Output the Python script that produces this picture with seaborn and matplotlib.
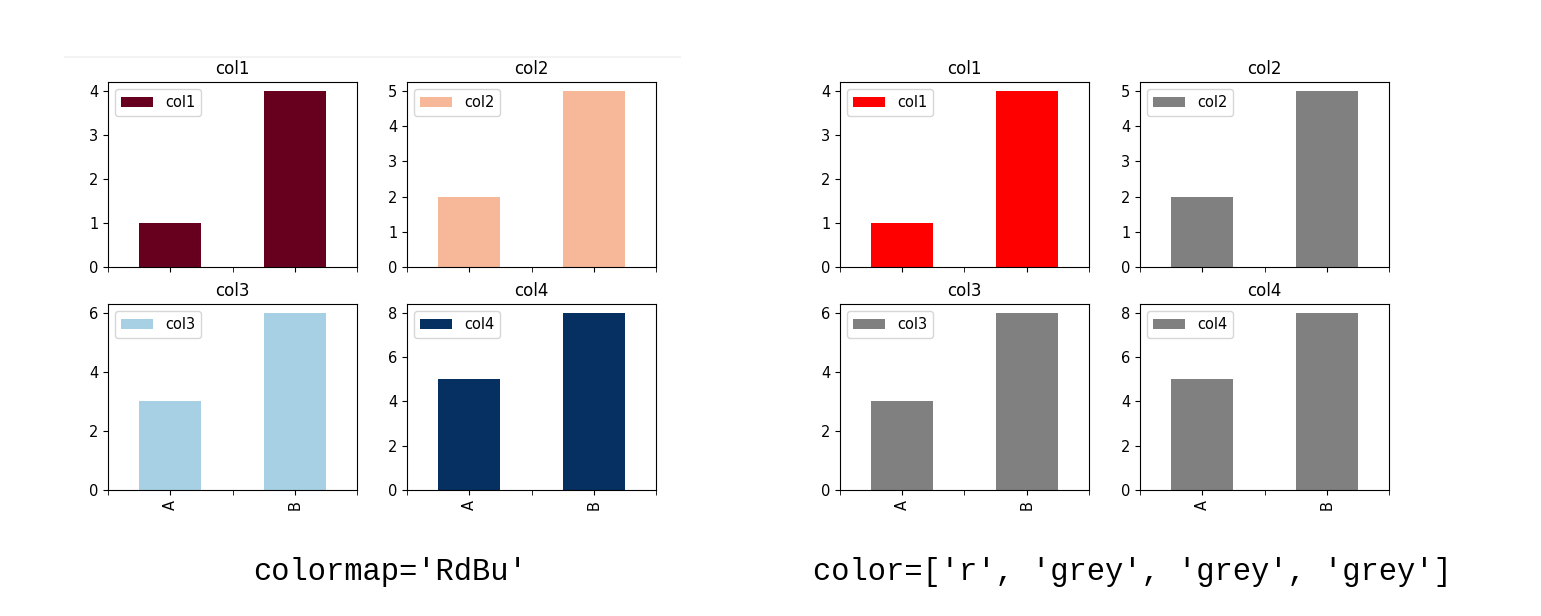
import numpy as np
import matplotlib
matplotlib.use('Agg')
import matplotlib.pyplot as plt
from matplotlib.lines import Line2D
from matplotlib.ticker import MultipleLocator
import seaborn as sns

# --- data ---
categories = ['A', 'B']
columns = ['col1', 'col2', 'col3', 'col4']
col1 = [1, 4]
col2 = [2, 5]
col3 = [3, 6]
col4 = [5, 8]
values = [col1, col2, col3, col4]

cmap = plt.get_cmap('RdBu')
left_colors = [cmap(v) for v in np.linspace(0, 1, 4)]
right_colors = ['r', 'grey', 'grey', 'grey']
captions = ["colormap='RdBu'", "color=['r', 'grey', 'grey', 'grey']"]

ytick_steps = [1, 1, 2, 2]

W, H = 1541, 616
fig = plt.figure(figsize=(W / 100, H / 100), dpi=100)


def axes_px(x0, x1, y0, y1):
    # pixel box (top-left origin) -> figure fraction
    return fig.add_axes([x0 / W, 1 - y1 / H, (x1 - x0) / W, (y1 - y0) / H])


def draw_panel(lefts, colors):
    rows = [(82, 267), (304, 490)]
    k = 0
    for r, (y0, y1) in enumerate(rows):
        for x0 in lefts:
            ax = axes_px(x0, x0 + 249, y0, y1)
            sns.barplot(x=categories, y=values[k], color=colors[k], width=0.5,
                        saturation=1, label=columns[k], ax=ax)
            ax.set_xlim(-0.5, 1.5)
            ax.set_ylim(0, max(values[k]) * 1.05)
            ax.yaxis.set_major_locator(MultipleLocator(ytick_steps[k]))
            ax.set_xticks([0, 1])
            ax.set_xticks([-0.5, 0.5, 1.5], minor=True)
            ax.tick_params(which='both', length=3.5, labelsize=10.5)
            if r == 0:
                ax.set_xticklabels([])
            else:
                ax.set_xticklabels(categories, rotation=90)
            ax.set_title(columns[k], fontsize=12)
            ax.legend(loc='upper left', fontsize=10.5, handlelength=2.2)
            ax.set_xlabel('')
            ax.set_ylabel('')
            k += 1


draw_panel([108, 407], left_colors)
draw_panel([840, 1140], right_colors)

# faint screenshot edge above the left panel
fig.add_artist(Line2D([65 / W, 680 / W], [1 - 57 / H, 1 - 57 / H],
                      color='#f3f3f3', lw=1.5))

fig.text(390 / W, 1 - 572 / H, captions[0], ha='center', va='center',
         family='Liberation Mono', fontsize=22)
fig.text(1132 / W, 1 - 572 / H, captions[1], ha='center', va='center',
         family='Liberation Mono', fontsize=22)

fig.savefig('out.png', dpi=100)
